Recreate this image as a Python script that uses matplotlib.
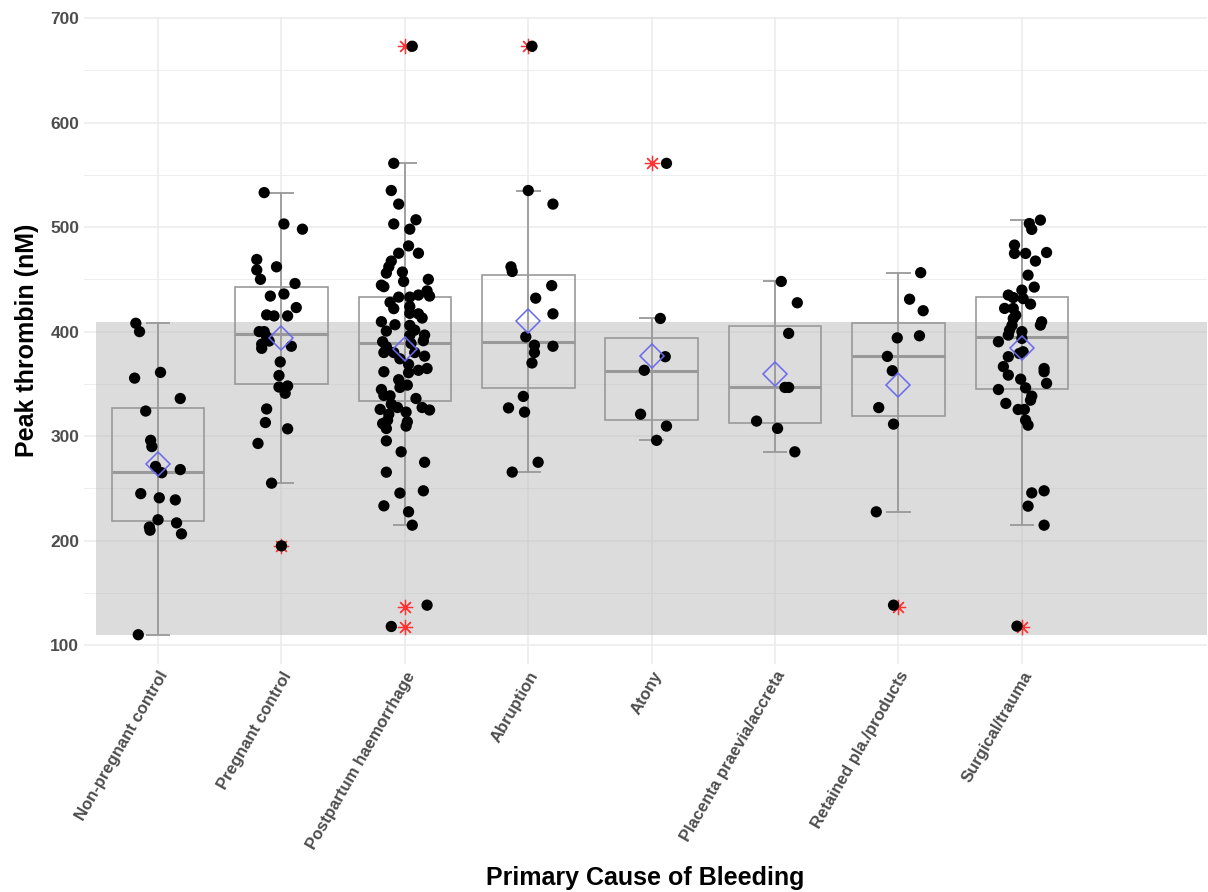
import matplotlib

matplotlib.use("Agg")
import matplotlib.pyplot as plt
from matplotlib.patches import Rectangle

plt.rcParams["font.family"] = ["Liberation Sans", "DejaVu Sans"]
plt.rcParams["font.weight"] = "bold"

# --- datos ---
categories = [
    "Non-pregnant control", "Pregnant control", "Postpartum haemorrhage",
    "Abruption", "Atony", "Placenta praevia/accreta",
    "Retained pla./products", "Surgical/trauma",
]

# rango de referencia (banda gris)
REF_LOW = 110
REF_HIGH = 409

nonpreg_vals = [408, 400, 361, 355.5, 336, 324, 296, 290, 271, 265, 268, 245,
                241, 239, 220, 217, 213, 210, 206.5, 110]
nonpreg_jit = [-0.18, -0.15, 0.02, -0.19, 0.18, -0.10, -0.06, -0.05, -0.02, 0.03,
               0.18, -0.14, 0.01, 0.14, 0.00, 0.15, -0.07, -0.065, 0.19, -0.16]

preg_vals = [533, 503, 498, 469, 459, 462, 450, 446, 434, 436, 423, 416, 415, 415,
             400, 400, 395, 391, 388, 384, 386, 371, 358, 347, 348, 341, 326, 313,
             307, 293, 255, 195]
preg_jit = [-0.14, 0.02, 0.17, -0.20, -0.20, -0.04, -0.17, 0.11, -0.09, 0.02, 0.12,
            -0.12, -0.06, 0.05, -0.18, -0.14, -0.12, -0.10, -0.16, -0.16, 0.08,
            -0.01, -0.02, -0.02, 0.05, 0.03, -0.12, -0.13, 0.05, -0.19, -0.08, 0.00]

pph_vals = [673, 561, 535, 522, 503, 507, 498, 482, 475, 475, 467.5, 462, 456, 457,
            448, 450, 444.5, 443, 433, 433, 435, 439, 434, 428, 422, 424, 417.5,
            417, 413, 409.5, 406.6, 406, 400.5, 401.4, 396.5, 396.7, 391.3, 390.3,
            385.6, 388.7, 380, 380, 374, 380, 376.5, 361.6, 368.7, 360.7, 363,
            364.7, 354, 348.8, 346.6, 338.6, 344.6, 336, 339, 330.6, 327.4, 327.4,
            325, 325.6, 323, 321, 315.3, 313.7, 312, 307.3, 309.6, 295.5, 285, 275,
            265.5, 245.5, 247.7, 233.3, 227.6, 214.8, 138.3, 117.9]
pph_jit = [0.06, -0.09, -0.11, -0.05, -0.09, 0.09, 0.04, 0.03, -0.05, 0.11, -0.11,
           -0.13, -0.15, -0.02, -0.01, 0.19, -0.19, -0.17, -0.05, 0.04, 0.11, 0.18,
           0.20, -0.12, -0.09, 0.04, 0.04, 0.11, 0.14, -0.19, -0.08, 0.04, -0.15,
           0.08, 0.04, 0.16, 0.15, -0.18, -0.15, 0.05, -0.17, -0.09, -0.04, 0.08,
           0.16, -0.17, 0.03, 0.03, 0.11, 0.18, -0.05, 0.02, -0.04, -0.12, -0.19,
           0.09, -0.17, -0.11, -0.06, 0.14, 0.20, -0.20, 0.01, -0.13, -0.14, 0.02,
           -0.18, -0.15, 0.01, -0.15, -0.03, 0.16, -0.15, -0.04, 0.15, -0.17, 0.03,
           0.06, 0.18, -0.11]

abr_vals = [673, 535, 522, 462, 457.5, 444, 432, 417, 395, 387, 380, 386, 370, 338,
            327, 323, 275, 265.6]
abr_jit = [0.03, 0.00, 0.20, -0.14, -0.13, 0.19, 0.06, 0.20, -0.02, 0.05, 0.05,
           0.20, 0.03, -0.04, -0.16, -0.03, 0.08, -0.13]

atony_vals = [561, 412.6, 376, 363, 321, 309.6, 296]
atony_jit = [0.12, 0.07, 0.11, -0.06, -0.09, 0.12, 0.04]

plac_vals = [448, 427.6, 398.3, 346.6, 346.6, 314.4, 307.4, 285]
plac_jit = [0.05, 0.18, 0.11, 0.08, 0.11, -0.15, 0.02, 0.16]

ret_vals = [456.4, 431, 420, 394, 396, 376.3, 362.6, 327.3, 311.5, 227.6, 138.3]
ret_jit = [0.18, 0.09, 0.20, -0.01, 0.17, -0.09, -0.05, -0.16, -0.04, -0.18, -0.04]

surg_vals = [506.7, 503.4, 497.8, 482.8, 474.8, 474.8, 475.7, 467.5, 454, 442.6,
             439.7, 435, 432.6, 431.6, 426.3, 422.2, 422.2, 415.7, 412.5, 409.4,
             406.2, 406, 401.4, 400, 396.7, 390.3, 393.5, 379.1, 380.7, 376, 366.5,
             364.7, 361.6, 358.4, 350.5, 354.5, 344.6, 346.2, 338.3, 334.4, 331.3,
             325.5, 325.5, 315.3, 310.5, 245.7, 247.7, 233, 214.8, 118.2]
surg_jit = [0.15, 0.06, 0.08, -0.06, -0.06, 0.03, 0.20, 0.11, 0.05, 0.10, 0.00,
            -0.11, -0.07, 0.01, 0.07, -0.14, -0.07, -0.05, -0.07, 0.16, 0.15, -0.08,
            -0.10, 0.00, -0.11, -0.19, 0.00, -0.02, 0.01, -0.11, -0.15, 0.18, 0.18,
            -0.11, 0.20, -0.01, -0.19, 0.03, 0.08, 0.07, -0.13, -0.03, 0.02, 0.03,
            0.05, 0.08, 0.18, 0.05, 0.18, -0.04]

# estadisticos de las cajas
whislo = [110, 255, 215, 265.6, 296, 285, 227.6, 214.8]
q1 = [219, 350, 333.5, 346, 315.6, 312.4, 319.6, 345]
med = [266, 398, 388.7, 390, 362.5, 346.9, 376.3, 394.4]
q3 = [327, 443, 433, 454, 394, 405.8, 408, 433]
whishi = [408, 533, 561, 535, 412.6, 448, 456.4, 506.7]
means = [273, 394, 383, 410, 377, 359, 349, 384]
fliers = [[], [195], [673, 137, 117], [673], [561], [], [137], [117]]

groups_vals = [nonpreg_vals, preg_vals, pph_vals, abr_vals, atony_vals,
               plac_vals, ret_vals, surg_vals]
groups_jit = [nonpreg_jit, preg_jit, pph_jit, abr_jit, atony_jit,
              plac_jit, ret_jit, surg_jit]

# --- figura ---
fig = plt.figure(figsize=(12.08, 8.92), dpi=100)
ax = fig.add_axes([84 / 1208, 1 - 664 / 892, 1123 / 1208, 647 / 892])

positions = list(range(1, len(categories) + 1))

# banda de referencia
ax.add_patch(Rectangle((0.5, REF_LOW), 9.0, REF_HIGH - REF_LOW,
                       facecolor="#bbbbbb", alpha=0.5, edgecolor="none", zorder=1))

# barras de error de los bigotes (linea completa + topes)
ax.vlines(positions, whislo, whishi, color="#999999", linewidth=1.3, zorder=2)
ax.hlines(whislo, [p - 0.1 for p in positions], [p + 0.1 for p in positions],
          color="#999999", linewidth=1.3, zorder=2)
ax.hlines(whishi, [p - 0.1 for p in positions], [p + 0.1 for p in positions],
          color="#999999", linewidth=1.3, zorder=2)

stats = []
for i in range(len(categories)):
    stats.append({"med": med[i], "q1": q1[i], "q3": q3[i], "whislo": whislo[i],
                  "whishi": whishi[i], "mean": means[i], "fliers": fliers[i]})

bp = ax.bxp(stats, positions=positions, widths=0.75, showmeans=True,
            showcaps=False, patch_artist=True, manage_ticks=False,
            boxprops=dict(facecolor="none", edgecolor="#999999", linewidth=1.2),
            medianprops=dict(color="#999999", linewidth=2.2),
            whiskerprops=dict(linewidth=0),
            flierprops=dict(marker=(8, 2, 0), markeredgecolor="#ff3333",
                            markerfacecolor="none", markersize=11,
                            markeredgewidth=0.9, linestyle="none"),
            meanprops=dict(marker="D", markerfacecolor="none",
                           markeredgecolor="#6868f0", markersize=12,
                           markeredgewidth=1.1),
            zorder=3)

# puntos con jitter
for pos, vals, jit in zip(positions, groups_vals, groups_jit):
    xs = [pos + j for j in jit]
    ax.scatter(xs, vals, s=66, color="black", edgecolors="none", zorder=4)

for m in bp["means"]:
    m.set_zorder(5)

# rejilla (theme_minimal)
ax.set_xlim(0.4, 9.5)
ax.set_ylim(82, 701)
ax.set_yticks(range(100, 701, 100))
ax.set_yticks(range(150, 700, 100), minor=True)
ax.set_xticks(positions)
ax.grid(which="major", color="#ebebeb", linewidth=1.1, zorder=0)
ax.grid(which="minor", axis="y", color="#ebebeb", linewidth=0.6, zorder=0)
ax.set_axisbelow(True)
for s in ax.spines.values():
    s.set_visible(False)
ax.tick_params(which="both", length=0)

ax.set_xticklabels(categories, rotation=60, ha="right", va="top",
                   rotation_mode="anchor", fontsize=12, color="#4d4d4d",
                   fontweight="bold")
for lab in ax.get_yticklabels():
    lab.set_fontsize(12.5)
    lab.set_color("#4d4d4d")
    lab.set_fontweight("bold")

ax.set_ylabel("Peak thrombin (nM)", fontsize=18, fontweight="bold", color="black")
ax.set_xlabel("Primary Cause of Bleeding", fontsize=18, fontweight="bold",
              color="black")
ax.yaxis.set_label_coords(-0.04, 0.5)
ax.xaxis.set_label_coords(0.5, -0.312)

fig.savefig("out.png", dpi=100)
